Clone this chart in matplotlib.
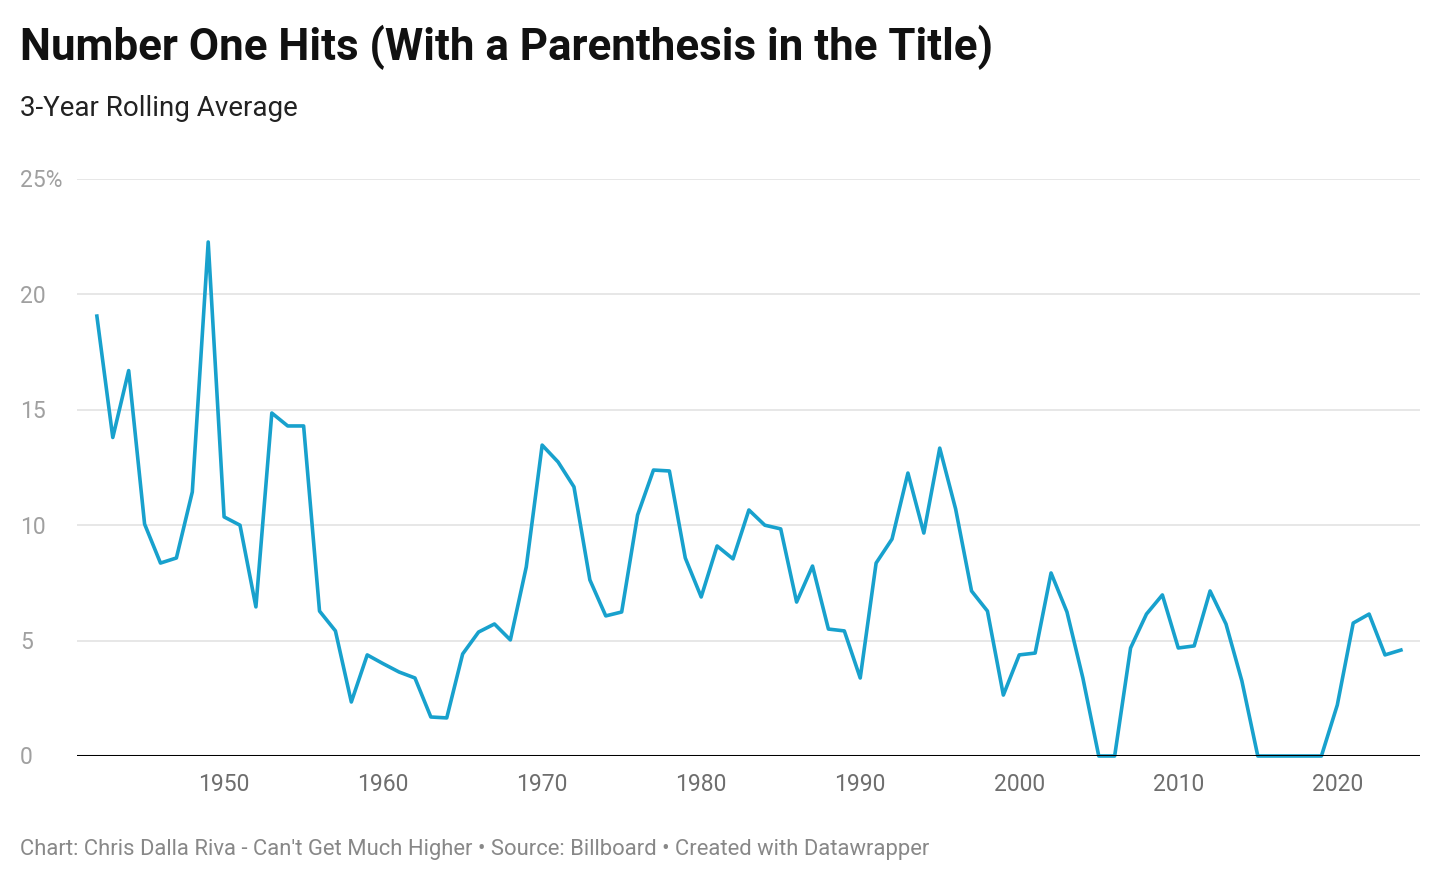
import matplotlib
matplotlib.use("Agg")
import matplotlib.pyplot as plt

plt.rcParams['font.family'] = ['Roboto', 'DejaVu Sans']

years = list(range(1942, 2025))
share = [19.06, 13.8, 16.7, 10.05, 8.36, 8.58, 11.44, 22.27, 10.36, 10.0,
         6.46, 14.86, 14.3, 14.3, 6.28, 5.42, 2.34, 4.38, 4.0, 3.64,
         3.38, 1.69, 1.65, 4.42, 5.37, 5.72, 5.03, 8.19, 13.47, 12.74,
         11.66, 7.63, 6.07, 6.24, 10.44, 12.39, 12.35, 8.58, 6.89, 9.1,
         8.54, 10.66, 10.0, 9.84, 6.67, 8.23, 5.5, 5.42, 3.38, 8.36,
         9.4, 12.26, 9.66, 13.34, 10.7, 7.15, 6.28, 2.64, 4.38, 4.46,
         7.93, 6.24, 3.38, 0, 0, 4.68, 6.15, 6.98, 4.68, 4.77,
         7.15, 5.72, 3.25, 0, 0, 0, 0, 0, 2.21, 5.76,
         6.15, 4.38, 4.59]
yticks = [0, 5, 10, 15, 20, 25]
ytick_labels = ['0', '5', '10', '15', '20', '25%']
xticks = [1950, 1960, 1970, 1980, 1990, 2000, 2010, 2020]

fig = plt.figure(figsize=(14.4, 8.82), dpi=100)
ax = fig.add_axes([77/1440, 1 - 756/882, (1420 - 77)/1440, (756 - 179)/882])

ax.plot(years, share, color='#18a1cd', lw=2.6, clip_on=False, zorder=3)

ax.set_ylim(0, 25)
ax.set_xlim(1940.75, 2025.2)
for y in yticks[1:]:
    ax.axhline(y, color='#e3e3e3', lw=1.2, zorder=1)
ax.axhline(0, color='#000000', lw=2.2, zorder=4)

ax.set_yticks([])
ax.set_xticks(xticks)
ax.set_xticklabels([str(x) for x in xticks], fontsize=16.5, color='#6e6e6e')
ax.tick_params(axis='x', length=0, pad=12)
for s in ax.spines.values():
    s.set_visible(False)

for y, lab in zip(yticks, ytick_labels):
    fig.text(20/1440, (ax.transData.transform((0, y))[1] - 2) / 882, lab, fontsize=16.5,
             color='#a0a0a0', va='center', ha='left')

fig.text(20/1440, 1 - 47/882, 'Number One Hits (With a Parenthesis in the Title)',
         fontsize=31.6, fontweight='bold', color='#111111', va='center', ha='left')
fig.text(20/1440, 1 - 108/882, '3-Year Rolling Average', fontsize=20,
         color='#222222', va='center', ha='left')
fig.text(20/1440, 1 - 850/882,
         "Chart: Chris Dalla Riva - Can't Get Much Higher \u2022 Source: Billboard \u2022 Created with Datawrapper",
         fontsize=15.8, color='#888888', va='center', ha='left')

fig.savefig('out.png', dpi=100)
